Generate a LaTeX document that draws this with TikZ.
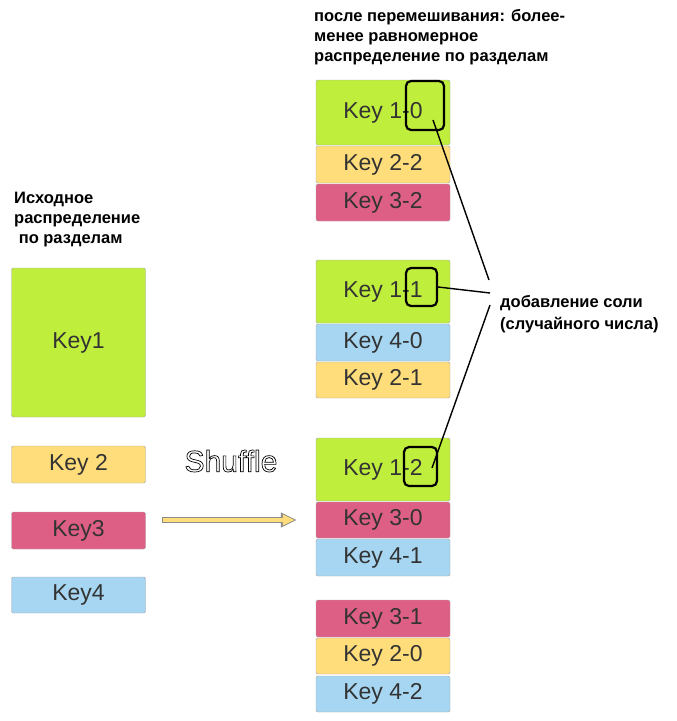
\documentclass[tikz,border=0pt]{standalone}
\usepackage{fontspec}
\setmainfont{Liberation Sans}
\usetikzlibrary{arrows.meta}
\definecolor{keygreen}{HTML}{C0EE3C}
\definecolor{keyyellow}{HTML}{FFDD7A}
\definecolor{keypink}{HTML}{DE5F85}
\definecolor{keyblue}{HTML}{A6D6F2}
\begin{document}
\begin{tikzpicture}[x=1pt,y=-1pt]
\tikzset{key/.style = {draw=gray!70,rounded corners=1.5pt,align=center,font=\fontsize{23}{24}\selectfont,text=black!80,inner sep=0pt}}
\tikzset{salt/.style = {draw=black,line width=2.2pt,rounded corners=5pt}}
\tikzset{caption/.style = {anchor=west,font=\bfseries\fontsize{16.5}{18}\selectfont,inner sep=0pt}}
\useasboundingbox (0,0) rectangle (677,721);
% source partitions
\newcommand{\keybox}[5]{\node[key,fill=#2,minimum width=134pt,minimum height=#4pt] (#1) at (#3) {#5};}
\keybox{k1}{keygreen}{78.5,342.5}{149}{Key1}
\keybox{k2}{keyyellow}{78.5,464.5}{37}{Key 2}
\keybox{k3}{keypink}{78.5,530.5}{37}{Key3}
\keybox{k4}{keyblue}{78.5,595}{36}{Key4}
% shuffled partitions
\keybox{a1}{keygreen}{383,112.5}{65}{Key 1-0}
\keybox{a2}{keyyellow}{383,164.5}{37}{Key 2-2}
\keybox{a3}{keypink}{383,202.5}{37}{Key 3-2}
\keybox{b1}{keygreen}{383,291.5}{63}{Key 1-1}
\keybox{b2}{keyblue}{383,342.5}{37}{Key 4-0}
\keybox{b3}{keyyellow}{383,380}{36}{Key 2-1}
\keybox{c1}{keygreen}{383,469.5}{63}{Key 1-2}
\keybox{c2}{keypink}{383,520}{36}{Key 3-0}
\keybox{c3}{keyblue}{383,557.5}{37}{Key 4-1}
\keybox{d1}{keypink}{383,618.5}{37}{Key 3-1}
\keybox{d2}{keyyellow}{383,656}{36}{Key 2-0}
\keybox{d3}{keyblue}{383,694}{36}{Key 4-2}
% salt marks
\node[salt,minimum width=38pt,minimum height=49pt] (s1) at (425,105.5) {};
\node[salt,minimum width=31pt,minimum height=38pt] (s2) at (421.5,287) {};
\node[salt,minimum width=33pt,minimum height=39pt] (s3) at (420.5,466.5) {};
% texts
\node[caption,align=left] (src) at (14,220) {Исходное\\[2pt]распределение\\[2pt]\ по разделам};
\node[caption,align=left] (dst) at (314,37) {после перемешивания: более-\\[2pt]менее равномерное\\[2pt]распределение по разделам};
\node[caption,align=left] (note) at (500,314) {добавление соли\\[4pt](случайного числа)};
\node[font=\fontsize{30}{32}\selectfont,inner sep=0pt] (shuf) at (231,461) {\special{pdf:literal direct 1 Tr 0.7 w}Shuffle\special{pdf:literal direct 0 Tr}};
% connectors
\coordinate (n1) at (489,280);
\coordinate (n2) at (490,293);
\coordinate (n3) at (490,305);
\draw[line width=1.4pt] (433,120) -- (n1);
\draw[line width=1.4pt] (s2.east) -- (n2);
\draw[line width=1.4pt] (432,468) -- (n3);
\coordinate (ar) at (162,520);
\draw[-{Triangle[length=16pt,width=14pt]},line width=6pt,draw=black!45,shorten >=19pt] (ar) -- (c2.west);
\draw[-{Triangle[length=12pt,width=10pt]},line width=4pt,draw=keyyellow,shorten >=21pt,shorten <=1pt] (ar) -- (c2.west);
\end{tikzpicture}
\end{document}
